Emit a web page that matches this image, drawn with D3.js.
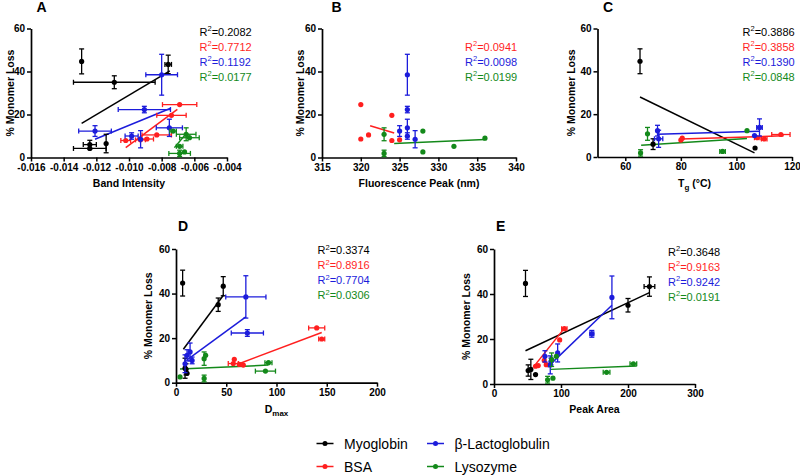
<!DOCTYPE html>
<html><head><meta charset="utf-8">
<script src="https://cdn.jsdelivr.net/npm/d3@7"></script>
<style>
body{margin:0;background:#fff}
text{font-family:"Liberation Sans",Arial,sans-serif}
</style>
</head><body>
<svg id="chart" width="800" height="475"></svg>
<script>
// ---------------- DATA ----------------
const proteins = ["Myoglobin", "BSA", "β-Lactoglobulin", "Lysozyme"];
const yTicks = [0, 20, 40, 60];

// each point: [x, % monomer loss, x error, y error]
// Panel A: Band Intensity
const aMyo = [[-0.0129,44.7,0,5.8],[-0.0076,43.3,0.0002,4.3],[-0.0109,35.0,0.0025,3.0],[-0.0114,6.5,0,4.3],[-0.0124,6.0,0.0004,2.0],[-0.0124,4.2,0.001,0]];
const aBSA = [[-0.0069,24.6,0.00105,0],[-0.0074,19.6,0.0009,0],[-0.0083,10.5,0.0009,0],[-0.0089,8.6,0.0004,0],[-0.0093,8.2,0.0003,0],[-0.0102,7.9,0.0003,0]];
const aLac = [[-0.0080,38.5,0.00097,9.5],[-0.00906,22.3,0.0016,1.5],[-0.00753,13.8,0.0008,4],[-0.01208,12.3,0.001,2.5],[-0.00984,10.0,0.0004,1.5],[-0.00929,8.5,0,4]];
const aLys = [[-0.0073,12.3,0.0002,0],[-0.0065,10.8,0.0006,3],[-0.0063,9.2,0.0006,0],[-0.0069,5.2,0.0002,0],[-0.0066,2.6,0,0],[-0.0069,1.9,0.00066,1.5]];
const aFit = [[[-0.0129,15.9],[-0.0075,40.3]], [[-0.0102,4.6],[-0.00704,22.4]], [[-0.01208,8.5],[-0.00745,22.9]], [[-0.00722,4.6],[-0.00657,10.5]]];
const aR2 = ["0.2082","0.7712","0.1192","0.0177"];
const aTicks = [-0.016,-0.014,-0.012,-0.010,-0.008,-0.006,-0.004];

// Panel B: Fluorescence Peak (nm)
const bMyo = [];
const bBSA = [[320,24.6,0,0],[320,8.6,0,0],[321,10.5,0,0],[324,19.6,0,0],[324,7.9,0,0],[325,8.2,0,0]];
const bLac = [[326,38.5,0,9.5],[326,22.3,0,1.5],[326,13.8,0,4],[325,12.3,0,2.5],[326,10.0,0,1.5],[327,8.5,0,4]];
const bLys = [[323,10.8,0,3],[323,1.9,0,1.5],[328,12.3,0,0],[328,2.6,0,0],[332,5.2,0,0],[336,9.0,0,0]];
const bFit = [null, [[321.2,14.8],[324.3,11.4]], null, [[324.3,6.5],[336,8.4]]];
const bR2 = [null,"0.0941","0.0098","0.0199"];
const bTicks = [315,320,325,330,335,340];

// Panel C: Tg (°C)
const cMyo = [[65.3,44.7,0,5.8],[70,6.0,0,2.5],[106.7,4.2,0,0]];
const cBSA = [[80,7.9,0,0],[80.5,8.8,0,0],[107.5,9.0,1,0],[110,8.4,1,0],[116,10.5,3.3,0]];
const cLac = [[71.6,12.3,0,2.5],[72,8.5,1.5,4],[106.5,10.0,0,0],[108.3,13.8,1,4]];
const cLys = [[65.5,1.9,0,1.5],[68,10.8,0,3],[95,2.6,1,0],[103.8,12.3,0,0]];
const cFit = [[[65.3,28],[106.5,1.9]], [[80,8.4],[117,9.9]], [[71.6,10.6],[108.3,12.0]], [[65.7,5.5],[103.8,8.6]]];
const cR2 = ["0.3886","0.3858","0.1390","0.0848"];
const cTicks = [60,80,100,120];

// Panel D: Dmax
const dMyo = [[6.6,44.7,0,5.8],[47,43.3,0,4.3],[42,35.0,0,3],[9,6.5,0,4.5],[10,6.0,0,2.5],[11,4.2,0,0]];
const dBSA = [[140,24.6,8,0],[145,19.6,3,0],[58,10.5,0,0],[57,8.6,5,0],[63,8.2,0,0],[67,7.9,0,0]];
const dLac = [[69.5,38.5,20,9.5],[71,22.3,16,1.5],[14,13.8,0,4],[11,12.3,0,2.5],[16,10.0,0,1.5],[9,8.5,0,4]];
const dLys = [[4,2.6,0,0],[28,1.9,0,1.5],[28,10.8,0,3],[29.5,12.3,0,0],[92,9.0,3.5,0],[89,5.2,10,0]];
const dFit = [[[7.3,15],[47.5,39.5]], [[62,8.4],[145,22.5]], [[11,10.2],[69.5,29.5]], [[4,6.1],[92,7.9]]];
const dR2 = ["0.3374","0.8916","0.7704","0.0306"];
const dTicks = [0,50,100,150,200];

// Panel E: Peak Area
const eMyo = [[47,44.7,0,5.8],[232,43.3,8,4.3],[200,35.0,0,3],[55,6.5,0,4.5],[51,6.0,0,2.5],[62,4.2,0,0]];
const eBSA = [[105,24.6,4,0],[98,19.6,0,0],[75,10.5,0,0],[78,8.6,0,0],[66,8.2,0,0],[62,7.9,0,0]];
const eLac = [[176,38.5,0,9.5],[146,22.3,3,1.5],[95,13.8,0,4],[76,12.3,0,2.5],[85,10.0,0,1.5],[84,8.5,0,4]];
const eLys = [[93,12.3,0,0],[86,10.8,0,3],[208,9.0,5,0],[168,5.2,5,0],[88,2.6,0,0],[80,1.9,0,1.5]];
const eFit = [[[47,14.8],[232,40.6]], [[59,7.6],[104,24.4]], [[80,7.5],[176,35]], [[84.6,6.5],[213,8.0]]];
const eR2 = ["0.3648","0.9163","0.9242","0.0191"];
const eTicks = [0,100,200,300];

// ---------------- LAYOUT / STYLE ----------------
const colors = ["#000000","#ff1f1f","#1c1cdb","#13891a"];
const svg = d3.select("#chart");

const panels = [
  {letter:"A", lx:36.5, ly:12, series:[aMyo,aBSA,aLac,aLys], fits:aFit, r2:aR2, ticks:aTicks,
   dom:[-0.016,-0.004], xr:[31,227], yr:[157.5,28.5], fmt:d=>d.toFixed(3),
   title:[["Band Intensity",""]], tx:129, ty:190, ytx:10, r2x:199.5, r2y:35.5},
  {letter:"B", lx:331.5, ly:12, series:[bMyo,bBSA,bLac,bLys], fits:bFit, r2:bR2, ticks:bTicks,
   dom:[315,340], xr:[322,516], yr:[157.5,28.5], fmt:d=>String(d),
   title:[["Fluorescence Peak (nm)",""]], tx:419, ty:190, ytx:300, r2x:465, r2y:35.5},
  {letter:"C", lx:603, ly:12, series:[cMyo,cBSA,cLac,cLys], fits:cFit, r2:cR2, ticks:cTicks,
   dom:[50,120], xr:[597.5,792], yr:[157,28.5], fmt:d=>String(d),
   title:[["T","g"],[" (°C)",""]], tx:694.5, ty:190, ytx:571.5, r2x:742.5, r2y:35.5},
  {letter:"D", lx:178, ly:231, series:[dMyo,dBSA,dLac,dLys], fits:dFit, r2:dR2, ticks:dTicks,
   dom:[0,200], xr:[176,377], yr:[382.7,249], fmt:d=>String(d),
   title:[["D","max"]], tx:276.5, ty:416, ytx:148.5, r2x:317.5, r2y:254},
  {letter:"E", lx:496, ly:231, series:[eMyo,eBSA,eLac,eLys], fits:eFit, r2:eR2, ticks:eTicks,
   dom:[0,300], xr:[494,695], yr:[384,249], fmt:d=>String(d),
   title:[["Peak Area",""]], tx:594.5, ty:416, ytx:466.5, r2x:668, r2y:255.5}
];

panels.forEach(p => {
  const x = d3.scaleLinear().domain(p.dom).range(p.xr);
  const y = d3.scaleLinear().domain([0,60]).range(p.yr);
  const g = svg.append("g");

  // axes
  const gx = g.append("g").attr("transform",`translate(0,${p.yr[0]})`)
    .call(d3.axisBottom(x).tickValues(p.ticks).tickFormat(p.fmt).tickSize(4).tickSizeOuter(0).tickPadding(2));
  const gy = g.append("g").attr("transform",`translate(${p.xr[0]},0)`)
    .call(d3.axisLeft(y).tickValues(yTicks).tickSize(4).tickSizeOuter(0).tickPadding(2));
  [gx,gy].forEach(a=>{
    a.select(".domain").attr("stroke","#000").attr("stroke-width",1.7);
    a.selectAll(".tick line").attr("stroke","#000").attr("stroke-width",1.5);
    a.selectAll(".tick text").attr("fill","#000").attr("font-size",10).attr("font-weight","bold")
      .attr("font-family",'"Liberation Sans",Arial,sans-serif');
  });

  // fit lines
  p.fits.forEach((f,i)=>{
    if(!f) return;
    g.append("line").attr("x1",x(f[0][0])).attr("y1",y(f[0][1]))
      .attr("x2",x(f[1][0])).attr("y2",y(f[1][1]))
      .attr("stroke",colors[i]).attr("stroke-width",1.5);
  });

  // error bars and points
  p.series.forEach((s,i)=>{
    const c = colors[i];
    const sg = g.append("g").attr("stroke",c).attr("stroke-width",1.3);
    s.forEach(d=>{
      const px = x(d[0]), py = y(d[1]);
      if(d[3]>0){
        const y1 = y(d[1]-d[3]), y2 = y(d[1]+d[3]);
        sg.append("line").attr("x1",px).attr("x2",px).attr("y1",y1).attr("y2",y2);
        sg.append("line").attr("x1",px-2.5).attr("x2",px+2.5).attr("y1",y1).attr("y2",y1);
        sg.append("line").attr("x1",px-2.5).attr("x2",px+2.5).attr("y1",y2).attr("y2",y2);
      }
      if(d[2]>0){
        const x1 = x(d[0]-d[2]), x2 = x(d[0]+d[2]);
        sg.append("line").attr("x1",x1).attr("x2",x2).attr("y1",py).attr("y2",py);
        sg.append("line").attr("x1",x1).attr("x2",x1).attr("y1",py-2.5).attr("y2",py+2.5);
        sg.append("line").attr("x1",x2).attr("x2",x2).attr("y1",py-2.5).attr("y2",py+2.5);
      }
    });
    g.append("g").selectAll("circle").data(s).join("circle")
      .attr("cx",d=>x(d[0])).attr("cy",d=>y(d[1])).attr("r",2.6).attr("fill",c);
  });

  // R² labels
  p.r2.forEach((r,i)=>{
    if(!r) return;
    const t = g.append("text").attr("x",p.r2x).attr("y",p.r2y+i*15).attr("fill",colors[i]).attr("font-size",11);
    t.append("tspan").text("R");
    t.append("tspan").text("2").attr("font-size",7.5).attr("dy",-4.5);
    t.append("tspan").text("="+r).attr("dy",4.5);
  });

  // panel letter
  g.append("text").attr("x",p.lx).attr("y",p.ly).text(p.letter)
    .attr("font-size",14).attr("font-weight","bold").attr("fill","#000");

  // x title
  const xt = g.append("text").attr("x",p.tx).attr("y",p.ty).attr("text-anchor","middle")
    .attr("font-size",10.5).attr("font-weight","bold").attr("fill","#000");
  p.title.forEach(([main,sub])=>{
    xt.append("tspan").text(main).attr("dy", xt.node().childNodes.length? -3:0);
    if(sub) xt.append("tspan").text(sub).attr("font-size",8).attr("dy",3);
  });

  // y title
  g.append("text").attr("transform",`translate(${p.ytx},${(p.yr[0]+p.yr[1])/2}) rotate(-90)`)
    .attr("text-anchor","middle").attr("dy","0.35em")
    .attr("font-size",10.5).attr("font-weight","bold").attr("fill","#000").text("% Monomer Loss");
});

// ---------------- LEGEND ----------------
const legPos = [[316.5,443.5],[316.5,466.5],[427,443.5],[427,466.5]];
proteins.forEach((name,i)=>{
  const [lx,ly] = legPos[i];
  const lg = svg.append("g");
  lg.append("line").attr("x1",lx).attr("x2",lx+17).attr("y1",ly).attr("y2",ly)
    .attr("stroke",colors[i]).attr("stroke-width",1.5);
  lg.append("circle").attr("cx",lx+8.5).attr("cy",ly).attr("r",2.5).attr("fill",colors[i]);
  lg.append("text").attr("x",lx+27.5).attr("y",ly+5).text(name)
    .attr("font-size",14).attr("fill","#000");
});
</script>
</body></html>
